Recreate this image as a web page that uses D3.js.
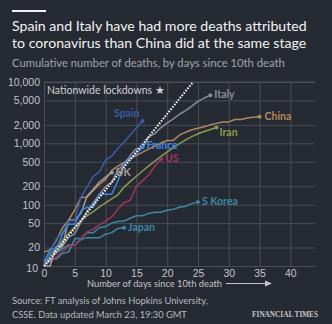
<!DOCTYPE html>
<html>
<head>
<meta charset="utf-8">
<script src="https://cdn.jsdelivr.net/npm/d3@7"></script>
<style>
  html, body { margin: 0; padding: 0; background: #262a33; }
  svg { display: block; font-family: Lato, 'Open Sans', sans-serif; }
</style>
</head>
<body>
<div id="chart"></div>
<script>
// days since 10th death, cumulative deaths
const italy = [10, 12, 17, 21, 29, 34, 52, 79, 107, 148, 197, 233, 366, 463, 631, 827, 827, 1266, 1441, 1809, 2158, 2503, 2978, 3405, 4032, 4825, 5476, 6077];
const spain = [10, 17, 28, 35, 54, 55, 133, 195, 289, 342, 533, 623, 830, 1043, 1375, 1772, 2311];
const france = [11, 19, 19, 33, 48, 48, 79, 91, 91, 148, 148, 148, 243, 450, 562, 674, 860];
const uk = [10, 10, 21, 21, 56, 56, 72, 138, 178, 234, 282, 335];
const us = [11, 12, 14, 17, 21, 22, 28, 36, 40, 47, 54, 63, 85, 108, 118, 200, 244, 307, 427, 552];
const iran = [12, 16, 19, 26, 34, 43, 54, 66, 77, 92, 107, 124, 145, 194, 237, 291, 354, 429, 514, 611, 724, 853, 988, 1135, 1284, 1433, 1556, 1685, 1812];
const china = [17, 18, 26, 42, 56, 82, 131, 133, 171, 213, 259, 361, 425, 490, 562, 632, 717, 804, 904, 1011, 1111, 1116, 1368, 1520, 1662, 1765, 1863, 2002, 2114, 2236, 2236, 2441, 2443, 2593, 2663, 2715];
const sKorea = [10, 13, 13, 16, 17, 28, 28, 35, 35, 42, 44, 50, 53, 54, 60, 66, 66, 72, 75, 75, 81, 84, 91, 94, 104, 111];
const japan = [10, 15, 16, 19, 22, 22, 27, 29, 29, 29, 33, 35, 41, 42];

// 33% daily increase guide
const guideDays = [0, 24.2];
const guideValues = [10, 10000];

const xTickValues = [0, 5, 10, 15, 20, 25, 30, 35, 40];
const yTickValues = [10, 20, 50, 100, 200, 500, 1000, 2000, 5000, 10000];

const countries = [
  { name: 'China', values: china, color: '#b5875c', label: [5, 3] },
  { name: 'Iran', values: iran, color: '#8c9b50', label: [3, 9] },
  { name: 'S Korea', values: sKorea, color: '#3a8aa3', label: [4, 3] },
  { name: 'Japan', values: japan, color: '#3a8ba5', label: [4, 3] },
  { name: 'US', values: us, color: '#a3345b', label: [4, 3] },
  { name: 'Italy', values: italy, color: '#8a8c97', label: [4, 3] },
  { name: 'UK', values: uk, color: '#a59c97', label: [4, 4] },
  { name: 'Spain', values: spain, color: '#3a5ea9', label: [-3, -4], anchor: 'end' },
  { name: 'France', values: france, color: '#3b88e4', label: [4, 2] },
];

const width = 332, height = 324;
const svg = d3.select('#chart').append('svg').attr('width', width).attr('height', height);
svg.append('rect').attr('width', width).attr('height', height).attr('fill', '#262a33');

function fit(sel, target) {
  const fs = parseFloat(sel.attr('font-size'));
  const len = sel.node().getComputedTextLength();
  sel.attr('font-size', (fs * target / len).toFixed(2));
}

// header
svg.append('rect').attr('x', 12).attr('y', 10).attr('width', 34).attr('height', 2).attr('fill', '#f2f2f2');
const t1 = svg.append('text').attr('x', 12).attr('y', 31).attr('font-size', 15).attr('fill', '#f2f2f2')
  .text('Spain and Italy have had more deaths attributed');
fit(t1, 295);
const t2 = svg.append('text').attr('x', 12).attr('y', 48).attr('font-size', t1.attr('font-size')).attr('fill', '#f2f2f2')
  .text('to coronavirus than China did at the same stage');
svg.append('text').attr('x', 12).attr('y', 67).attr('font-size', 11).attr('fill', '#a3a5ab')
  .text('Cumulative number of deaths, by days since 10th death')
  .call(s => fit(s, 273));

const x = d3.scaleLinear().domain([0, 44]).range([44, 315]);
const y = d3.scaleLog().domain([10, 10000]).range([266, 82]);

const g = svg.append('g');

// grid
g.append('g').attr('transform', 'translate(44,0)')
  .call(d3.axisLeft(y).tickValues(yTickValues).tickFormat(d3.format(',')).tickSize(-(315 - 44)).tickPadding(4))
  .call(a => a.select('.domain').remove())
  .call(a => a.selectAll('line').attr('stroke', '#4a4e57'))
  .call(a => a.selectAll('text').attr('fill', '#c4c5c9').attr('font-size', 10.5).attr('font-family', null))
  .call(a => a.selectAll('.tick').filter(d => d === 10).select('text').attr('x', -6).attr('dy', '0.5em'));

g.append('g').attr('transform', 'translate(0,266)')
  .call(d3.axisBottom(x).tickValues(xTickValues).tickSize(-(266 - 82)).tickPadding(4))
  .call(a => a.select('.domain').remove())
  .call(a => a.selectAll('line').attr('stroke', '#4a4e57'))
  .call(a => a.selectAll('text').attr('fill', '#c4c5c9').attr('font-size', 10.5).attr('font-family', null));

g.append('line').attr('x1', x(0)).attr('x2', x(44)).attr('y1', y(10000)).attr('y2', y(10000)).attr('stroke', '#4a4e57');

svg.append('text').attr('x', 47).attr('y', 94).attr('font-size', 10.5).attr('fill', '#cfd0d4')
  .text('Nationwide lockdowns \u2605');

// axis title + arrow
svg.append('text').attr('x', 87).attr('y', 287).attr('font-size', 10.5).attr('fill', '#c4c5c9')
  .text('Number of days since 10th death').call(s => fit(s, 135));
svg.append('line').attr('x1', 226).attr('x2', 270).attr('y1', 283.5).attr('y2', 283.5)
  .attr('stroke', '#c4c5c9').attr('stroke-width', 1.2);
svg.append('path').attr('d', 'M265,280.5 L272,283.5 L265,286.5 Z').attr('fill', '#c4c5c9');

// lines
const line = d3.line().x((d, i) => x(i)).y(d => y(d));

countries.forEach(c => {
  g.append('path').datum(c.values)
    .attr('fill', 'none').attr('stroke', c.color).attr('stroke-width', 1.5)
    .attr('stroke-linejoin', 'round').attr('d', line);
});

g.append('path')
  .datum(guideDays.map((d, i) => [d, guideValues[i]]))
  .attr('fill', 'none').attr('stroke', '#ffffff').attr('stroke-width', 2)
  .attr('stroke-dasharray', '1.5,1.5')
  .attr('d', d3.line().x(d => x(d[0])).y(d => y(d[1])));

countries.forEach(c => {
  const last = c.values.length - 1;
  const px = x(last), py = y(c.values[last]);
  g.append('circle').attr('cx', px).attr('cy', py).attr('r', 2).attr('fill', c.color);
  g.append('text').attr('x', px + c.label[0]).attr('y', py + c.label[1])
    .attr('text-anchor', c.anchor || 'start')
    .attr('font-size', 10.5).attr('font-weight', 'bold').attr('fill', c.color)
    .text(c.name);
});

// footer
svg.append('text').attr('x', 12).attr('y', 304).attr('font-size', 10).attr('fill', '#b9babe')
  .text('Source: FT analysis of Johns Hopkins University,').call(s => fit(s, 196));
svg.append('text').attr('x', 12).attr('y', 318).attr('font-size', 10).attr('fill', '#b9babe')
  .text('CSSE. Data updated March 23, 19:30 GMT').call(s => fit(s, 175));
svg.append('text').attr('x', 318).attr('y', 317).attr('text-anchor', 'end')
  .attr('font-family', "'Liberation Serif', 'DejaVu Serif', serif").attr('font-size', 9)
  .attr('font-weight', 'bold').attr('fill', '#c9c9c9')
  .text('FINANCIAL TIMES').call(s => fit(s, 66));
</script>
</body>
</html>
